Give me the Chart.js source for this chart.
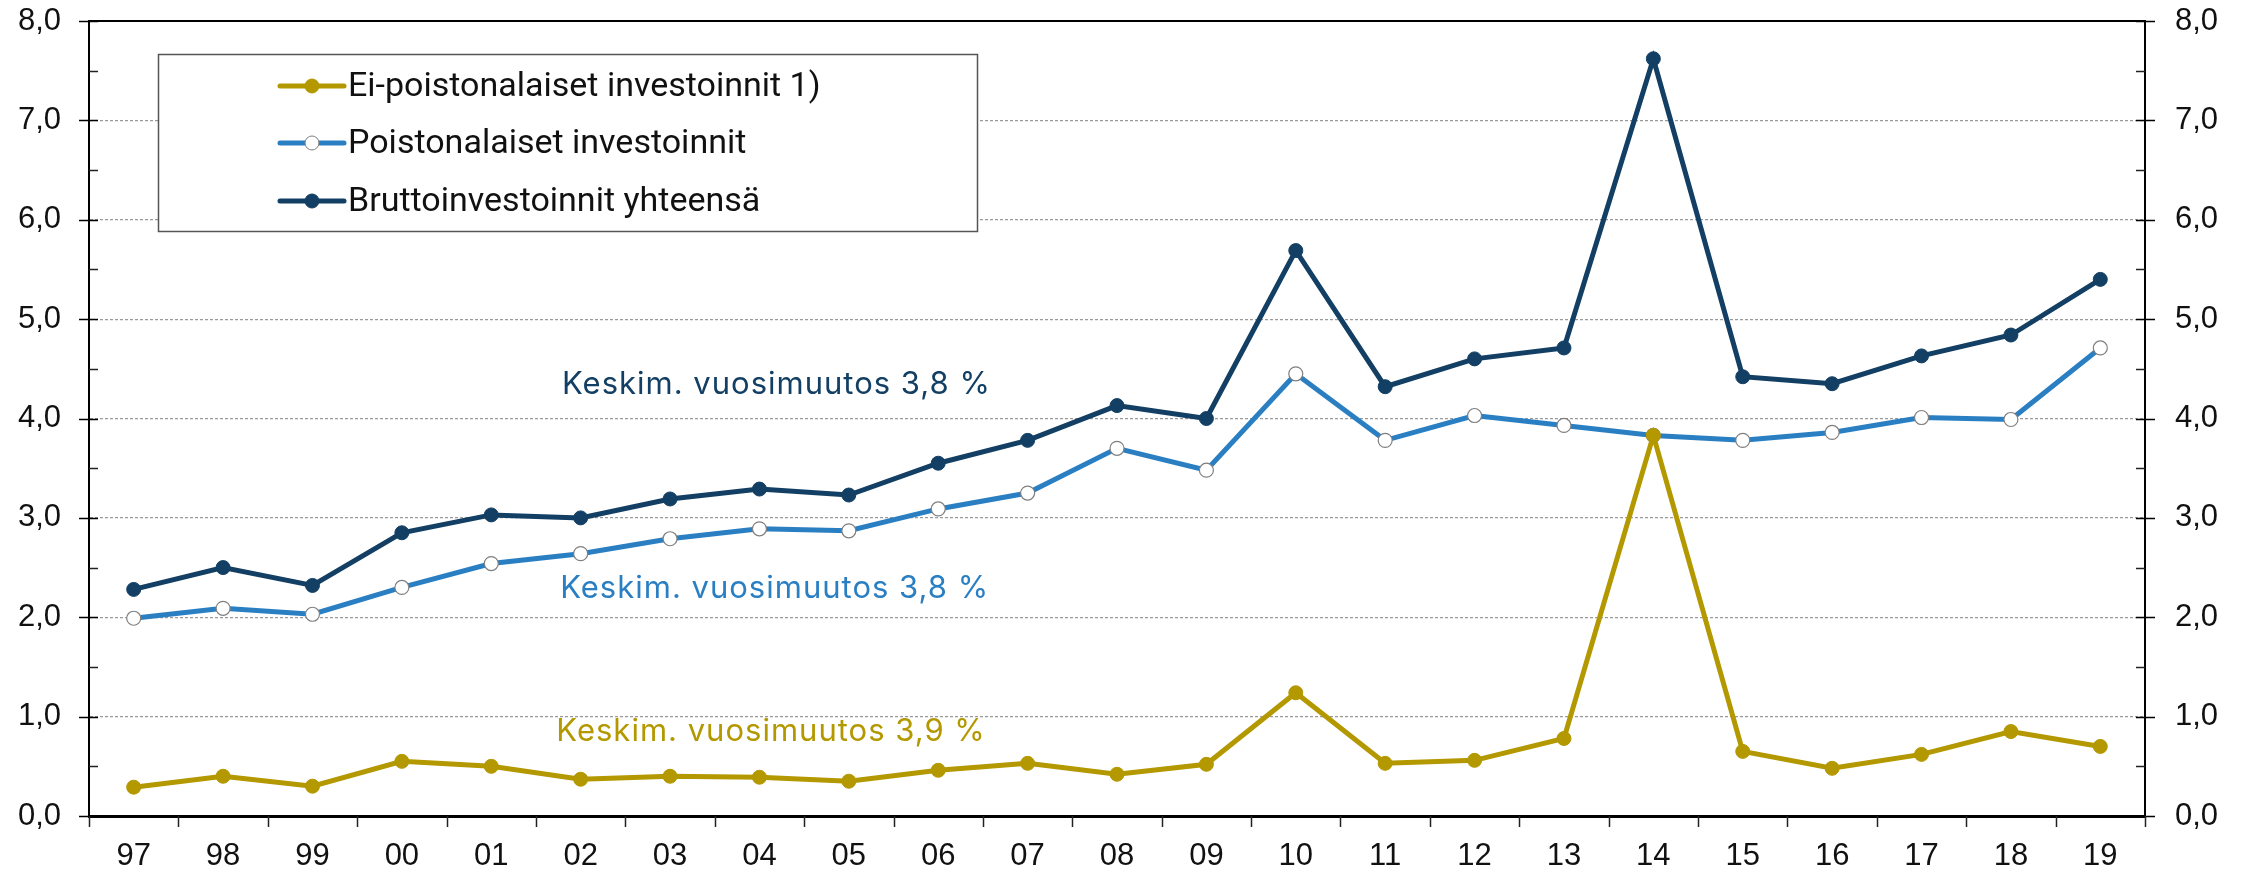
<!DOCTYPE html>
<html>
<head>
<meta charset="utf-8">
<script src="https://cdn.jsdelivr.net/npm/chart.js@4/dist/chart.umd.min.js"></script>
<style>
  html, body { margin: 0; padding: 0; background: #fff; }
  #wrap { width: 2247px; height: 873px; }
</style>
</head>
<body>
<div id="wrap"><canvas id="chartContainer" width="2247" height="873"></canvas></div>
<script>
// categories (years)
const years = ["97", "98", "99", "00", "01", "02", "03", "04", "05", "06", "07", "08",
  "09", "10", "11", "12", "13", "14", "15", "16", "17", "18", "19"];

// series values
const eiPoisto = [0.29, 0.40, 0.30, 0.55, 0.50, 0.37, 0.40, 0.39, 0.35, 0.46, 0.53, 0.42,
  0.52, 1.24, 0.53, 0.56, 0.78, 3.83, 0.65, 0.48, 0.62, 0.85, 0.70];
const poisto = [1.99, 2.09, 2.03, 2.30, 2.54, 2.64, 2.79, 2.89, 2.87, 3.09, 3.25, 3.70,
  3.48, 4.45, 3.78, 4.03, 3.93, 3.83, 3.78, 3.86, 4.01, 3.99, 4.71];
const brutto = [2.28, 2.50, 2.32, 2.85, 3.03, 3.00, 3.19, 3.29, 3.23, 3.55, 3.78, 4.13,
  4.00, 5.69, 4.32, 4.60, 4.71, 7.62, 4.42, 4.35, 4.63, 4.84, 5.40];

const seriesNames = ["Ei-poistonalaiset investoinnit 1)", "Poistonalaiset investoinnit", "Bruttoinvestoinnit yhteensä"];

// tick labels
const yTicks = [0, 1, 2, 3, 4, 5, 6, 7, 8];

// average change notes: text, category position, value
const noteTexts = ["Keskim. vuosimuutos 3,8 %", "Keskim. vuosimuutos 3,8 %", "Keskim. vuosimuutos 3,9 %"];
const noteX = [7.19, 7.17, 7.13];
const noteY = [4.34, 2.29, 0.85];

const GOLD = "#b39800";
const BLUE = "#2a7fc3";
const NAVY = "#123f63";
const noteColors = [NAVY, BLUE, GOLD];

const fmt = v => v.toFixed(1).replace(".", ",");

// minor/major ticks, top border, notes and legend
const decorPlugin = {
  id: "decor",
  afterDraw(chart) {
    const ctx = chart.ctx;
    const a = chart.chartArea;
    const x = chart.scales.x, y = chart.scales.y;
    ctx.save();
    // top frame line
    ctx.strokeStyle = "#000";
    ctx.lineWidth = 2;
    ctx.beginPath();
    ctx.moveTo(a.left, a.top);
    ctx.lineTo(a.right, a.top);
    ctx.stroke();
    // y ticks
    ctx.lineWidth = 1.5;
    for (let v = 0; v <= 8; v += 0.5) {
      const py = Math.round(y.getPixelForValue(v)) + 0.5;
      const major = v % 1 === 0;
      ctx.strokeStyle = major ? "#000" : "#222";
      ctx.beginPath();
      ctx.moveTo(a.left - (major ? 10 : 0), py);
      ctx.lineTo(a.left + 9, py);
      ctx.moveTo(a.right - 9, py);
      ctx.lineTo(a.right + (major ? 10 : 0), py);
      ctx.stroke();
    }
    // x ticks at category boundaries
    const half = (x.getPixelForValue(1) - x.getPixelForValue(0)) / 2;
    ctx.strokeStyle = "#222";
    for (let i = 0; i <= years.length; i++) {
      const px = Math.round(x.getPixelForValue(i) - half) + 0.5;
      ctx.beginPath();
      ctx.moveTo(px, a.bottom);
      ctx.lineTo(px, a.bottom + 11);
      ctx.stroke();
    }
    // notes
    ctx.font = "31px Inter";
    ctx.letterSpacing = "1px";
    ctx.textAlign = "center";
    ctx.textBaseline = "middle";
    noteTexts.forEach((t, i) => {
      ctx.fillStyle = noteColors[i];
      ctx.fillText(t, x.getPixelForValue(noteX[i]), y.getPixelForValue(noteY[i]));
    });
    ctx.letterSpacing = "0px";
    // legend box
    ctx.fillStyle = "#fff";
    ctx.fillRect(158, 54, 819, 177);
    ctx.strokeStyle = "#555";
    ctx.lineWidth = 1.5;
    ctx.strokeRect(158.5, 54.5, 819, 177);
    const rows = [86, 143, 201];
    chart.data.datasets.forEach((ds, i) => {
      const ry = rows[i];
      ctx.strokeStyle = ds.borderColor;
      ctx.lineWidth = 5;
      ctx.lineCap = "round";
      ctx.beginPath();
      ctx.moveTo(280, ry);
      ctx.lineTo(344, ry);
      ctx.stroke();
      ctx.beginPath();
      ctx.arc(312, ry, 7, 0, Math.PI * 2);
      ctx.fillStyle = ds.pointBackgroundColor;
      ctx.fill();
      ctx.lineWidth = 1;
      ctx.strokeStyle = ds.pointBorderColor;
      ctx.stroke();
      ctx.fillStyle = "#111";
      ctx.font = "34px Roboto";
      ctx.textAlign = "left";
      ctx.fillText(ds.label, 348, ry + 1);
    });
    ctx.restore();
  }
};

const data = {
  labels: years,
  datasets: [
    {
      label: seriesNames[0], data: eiPoisto, yAxisID: "y",
      borderColor: GOLD, borderWidth: 5,
      pointRadius: 7, pointBackgroundColor: GOLD, pointBorderColor: GOLD, pointBorderWidth: 1,
    },
    {
      label: seriesNames[1], data: poisto, yAxisID: "y",
      borderColor: BLUE, borderWidth: 5,
      pointRadius: 7, pointBackgroundColor: "#fff", pointBorderColor: "#7f7f7f", pointBorderWidth: 1.2,
    },
    {
      label: seriesNames[2], data: brutto, yAxisID: "y",
      borderColor: NAVY, borderWidth: 5,
      pointRadius: 7, pointBackgroundColor: NAVY, pointBorderColor: NAVY, pointBorderWidth: 1,
    },
  ],
};

const tickFont = { family: "Liberation Sans", size: 31 };

const config = {
  type: "line",
  data: data,
  options: {
    responsive: false,
    animation: false,
    layout: { padding: { top: 21, left: 0, right: 0, bottom: 0 } },
    scales: {
      x: {
        offset: true,
        grid: { display: false, drawTicks: false },
        border: { color: "#000", width: 3 },
        ticks: { color: "#111", font: tickFont, padding: 22, maxRotation: 0 },
        afterFit(s) { s.height = 57; s.paddingLeft = 0; s.paddingRight = 0; },
      },
      y: {
        position: "left",
        min: 0, max: 8,
        afterBuildTicks(s) { s.ticks = yTicks.map(v => ({ value: v })); },
        ticks: { color: "#111", font: tickFont, padding: 28, callback: v => fmt(v) },
        grid: {
          drawTicks: false,
          color: c => (c.tick && c.tick.value > 0 && c.tick.value < 8) ? "#9a9a9a" : "rgba(0,0,0,0)",
          lineWidth: 1.2,
        },
        border: { color: "#000", width: 2, dash: [3, 2] },
        afterFit(s) { s.width = 89; s.paddingTop = 0; s.paddingBottom = 0; },
      },
      y2: {
        position: "right",
        min: 0, max: 8,
        afterBuildTicks(s) { s.ticks = yTicks.map(v => ({ value: v })); },
        ticks: { color: "#111", font: tickFont, padding: 30, callback: v => fmt(v) },
        grid: { drawOnChartArea: false, drawTicks: false },
        border: { color: "#000", width: 2 },
        afterFit(s) { s.width = 102; s.paddingTop = 0; s.paddingBottom = 0; },
      },
    },
    plugins: {
      legend: { display: false },
      tooltip: { enabled: false },
    },
  },
  plugins: [decorPlugin],
};

const ctx = document.getElementById("chartContainer").getContext("2d");
const investChart = new Chart(ctx, config);
</script>
</body>
</html>
